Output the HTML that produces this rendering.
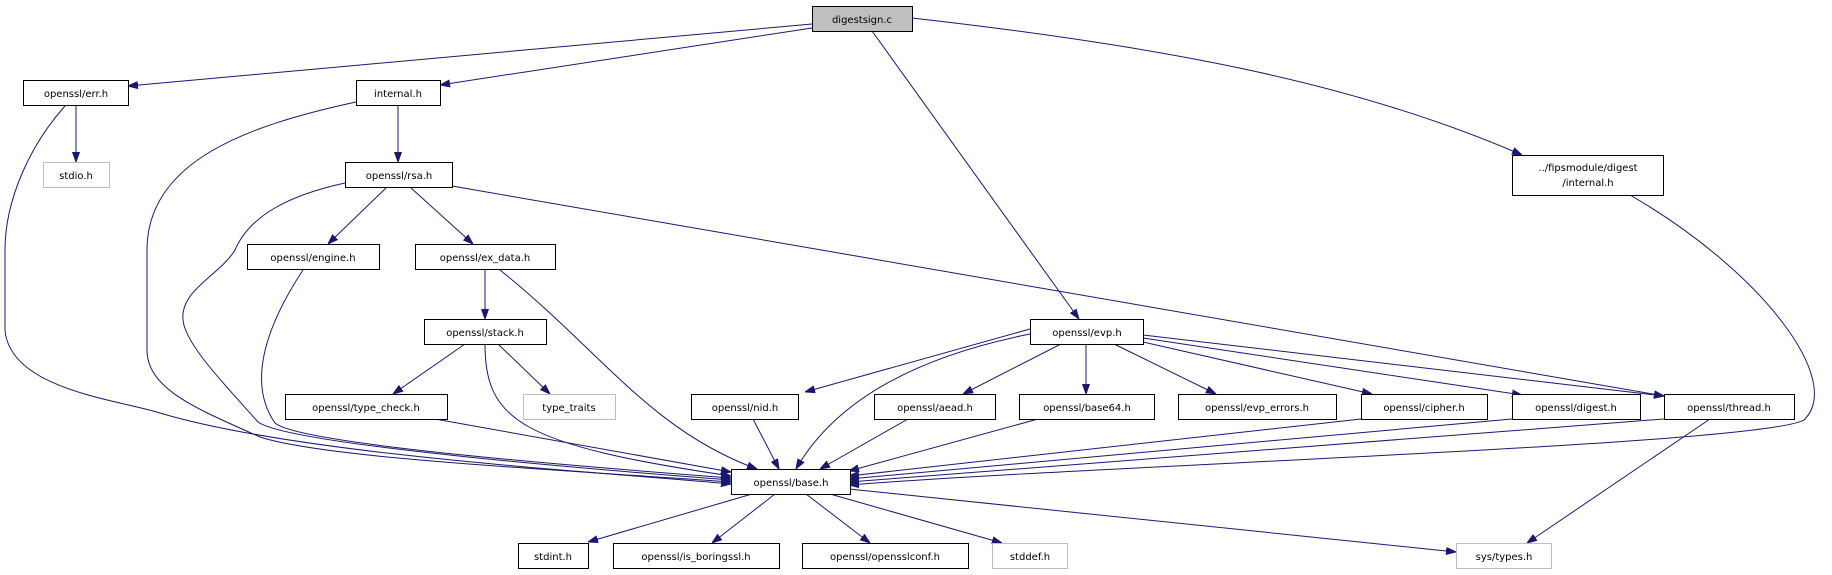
<!DOCTYPE html>
<html><head><meta charset="utf-8"><style>
html,body{margin:0;padding:0;background:#fff;}
svg{display:block;}
text{font-family:"DejaVu Sans","Liberation Sans",sans-serif;font-size:10px;fill:#000;}
.n{fill:#fff;stroke:#000;stroke-width:1}
.g{fill:#fff;stroke:#bfbfbf;stroke-width:1}
.e{fill:none;stroke:#191970;stroke-width:1}
</style></head><body>
<svg width="1832" height="575" viewBox="0 0 1832 575" xmlns="http://www.w3.org/2000/svg">
<defs><marker id="a" viewBox="0 0 10 10" refX="10" refY="5" markerWidth="10" markerHeight="10" markerUnits="userSpaceOnUse" orient="auto"><path d="M0,1.5 L10,5 L0,8.5 Z" fill="#191970" stroke="#191970"/></marker></defs>
<g marker-end="url(#a)">
<path class="e" d="M812,24 L128,86"/>
<path class="e" d="M812,28 L440,85"/>
<path class="e" d="M872,31 L1079,319"/>
<path class="e" d="M912,18 C1150,45 1350,80 1522,155"/>
<path class="e" d="M76,106 L76,162"/>
<path class="e" d="M65,106 C30,145 5,200 5,250 L5,330 C10,390 120,400 160,413 C300,455 600,472 731,484"/>
<path class="e" d="M398,106 L398,162"/>
<path class="e" d="M356,102 C250,125 147,160 147,250 L147,350 C147,390 200,410 260,437 C330,460 600,472 731,482"/>
<path class="e" d="M345,183 C290,195 250,215 235,250 C220,275 180,290 183,320 C185,345 230,390 258,422 C290,445 600,470 731,480"/>
<path class="e" d="M303,270 C270,320 245,380 275,423 C300,445 600,468 731,478"/>
<path class="e" d="M386,188 L328,244"/>
<path class="e" d="M411,188 L473,244"/>
<path class="e" d="M452,186 L1664,396"/>
<path class="e" d="M485,270 L485,319"/>
<path class="e" d="M500,270 C600,350 650,430 757,469"/>
<path class="e" d="M465,344 L393,394"/>
<path class="e" d="M498,344 L550,394"/>
<path class="e" d="M485,344 C485,420 520,445 731,476"/>
<path class="e" d="M435,419 L731,472"/>
<path class="e" d="M753,419 L779,469"/>
<path class="e" d="M1030,329 L805,392"/>
<path class="e" d="M1030,334 C900,360 830,410 796,469"/>
<path class="e" d="M1061,344 L963,394"/>
<path class="e" d="M1086,344 L1086,394"/>
<path class="e" d="M1114,344 L1216,394"/>
<path class="e" d="M1143,342 L1372,394"/>
<path class="e" d="M1143,338 L1522,395"/>
<path class="e" d="M1143,335 L1664,396"/>
<path class="e" d="M908,419 L820,469"/>
<path class="e" d="M1038,419 L849,471"/>
<path class="e" d="M1361,419 L849,476"/>
<path class="e" d="M1512,419 L849,479"/>
<path class="e" d="M1664,419 L849,482"/>
<path class="e" d="M1630,195 C1760,270 1845,380 1804,420 C1760,445 1100,465 849,485"/>
<path class="e" d="M1710,419 L1527,543"/>
<path class="e" d="M752,494 L588,542"/>
<path class="e" d="M775,494 L712,543"/>
<path class="e" d="M806,494 L870,543"/>
<path class="e" d="M830,494 L1002,543"/>
<path class="e" d="M849,489 L1456,552"/>
</g>
<rect x="812.5" y="6.5" width="100" height="25" fill="#bfbfbf" stroke="#000"/><text x="862" y="23" text-anchor="middle">digestsign.c</text>
<rect class="n" x="23.5" y="80.5" width="105" height="25"/><text x="76" y="97" text-anchor="middle">openssl/err.h</text>
<rect class="n" x="356.5" y="80.5" width="84" height="25"/><text x="398" y="97" text-anchor="middle">internal.h</text>
<rect class="g" x="43.5" y="162.5" width="66" height="25"/><text x="76" y="179" text-anchor="middle">stdio.h</text>
<rect class="n" x="345.5" y="162.5" width="107" height="25"/><text x="399" y="179" text-anchor="middle">openssl/rsa.h</text>
<rect class="n" x="1512.5" y="155.5" width="151" height="40"/><text x="1588" y="171" text-anchor="middle">../fipsmodule/digest</text><text x="1588" y="186" text-anchor="middle">/internal.h</text>
<rect class="n" x="247.5" y="244.5" width="132" height="25"/><text x="313" y="261" text-anchor="middle">openssl/engine.h</text>
<rect class="n" x="415.5" y="244.5" width="140" height="25"/><text x="485" y="261" text-anchor="middle">openssl/ex_data.h</text>
<rect class="n" x="424.5" y="319.5" width="122" height="25"/><text x="485" y="336" text-anchor="middle">openssl/stack.h</text>
<rect class="n" x="1030.5" y="319.5" width="113" height="25"/><text x="1087" y="336" text-anchor="middle">openssl/evp.h</text>
<rect class="n" x="285.5" y="394.5" width="162" height="25"/><text x="366" y="411" text-anchor="middle">openssl/type_check.h</text>
<rect class="g" x="523.5" y="394.5" width="92" height="25"/><text x="569" y="411" text-anchor="middle">type_traits</text>
<rect class="n" x="691.5" y="394.5" width="107" height="25"/><text x="745" y="411" text-anchor="middle">openssl/nid.h</text>
<rect class="n" x="874.5" y="394.5" width="121" height="25"/><text x="935" y="411" text-anchor="middle">openssl/aead.h</text>
<rect class="n" x="1019.5" y="394.5" width="135" height="25"/><text x="1087" y="411" text-anchor="middle">openssl/base64.h</text>
<rect class="n" x="1178.5" y="394.5" width="158" height="25"/><text x="1257" y="411" text-anchor="middle">openssl/evp_errors.h</text>
<rect class="n" x="1361.5" y="394.5" width="126" height="25"/><text x="1424" y="411" text-anchor="middle">openssl/cipher.h</text>
<rect class="n" x="1512.5" y="394.5" width="128" height="25"/><text x="1576" y="411" text-anchor="middle">openssl/digest.h</text>
<rect class="n" x="1664.5" y="394.5" width="130" height="25"/><text x="1729" y="411" text-anchor="middle">openssl/thread.h</text>
<rect class="n" x="731.5" y="469.5" width="119" height="25"/><text x="791" y="486" text-anchor="middle">openssl/base.h</text>
<rect class="n" x="518.5" y="543.5" width="70" height="25"/><text x="553" y="560" text-anchor="middle">stdint.h</text>
<rect class="n" x="613.5" y="543.5" width="166" height="25"/><text x="696" y="560" text-anchor="middle">openssl/is_boringssl.h</text>
<rect class="n" x="802.5" y="543.5" width="166" height="25"/><text x="885" y="560" text-anchor="middle">openssl/opensslconf.h</text>
<rect class="g" x="992.5" y="543.5" width="75" height="25"/><text x="1030" y="560" text-anchor="middle">stddef.h</text>
<rect class="g" x="1456.5" y="543.5" width="95" height="25"/><text x="1504" y="560" text-anchor="middle">sys/types.h</text>
</svg>
</body></html>
